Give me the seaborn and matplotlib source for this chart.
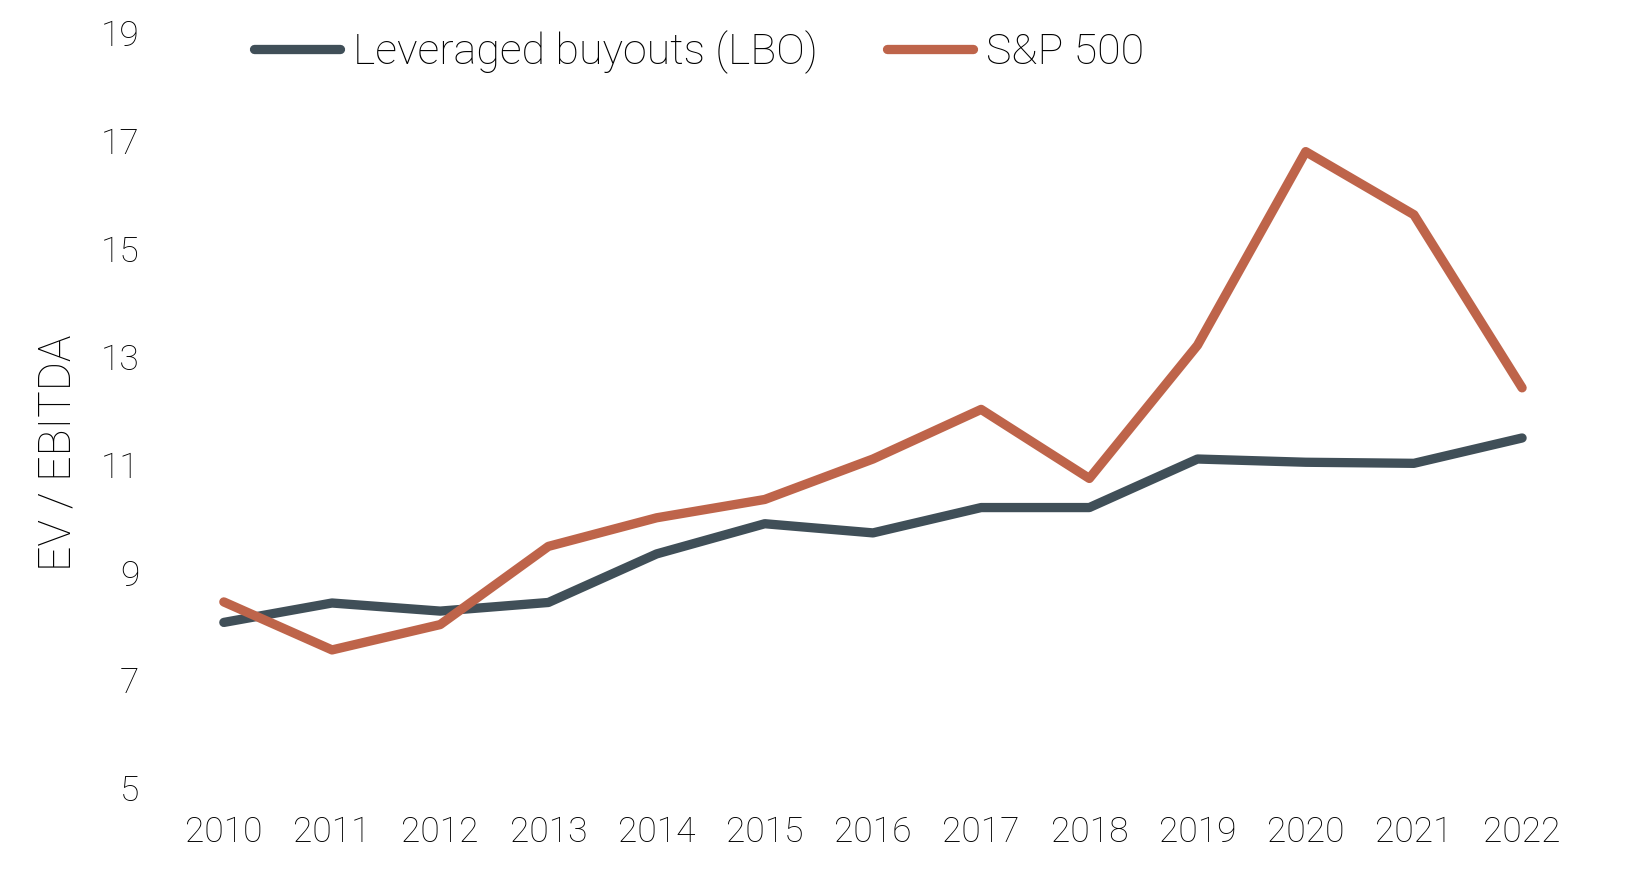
import numpy as np
import pandas as pd
import matplotlib
matplotlib.use("Agg")
import matplotlib.pyplot as plt
import seaborn as sns

years = [2010, 2011, 2012, 2013, 2014, 2015, 2016, 2017, 2018, 2019, 2020, 2021, 2022]
lbo = [8.07, 8.43, 8.28, 8.44, 9.34, 9.90, 9.73, 10.20, 10.20, 11.10, 11.04, 11.02, 11.49]
sp500 = [8.45, 7.56, 8.03, 9.48, 10.01, 10.35, 11.10, 12.02, 10.74, 13.21, 16.80, 15.63, 12.42]
series_names = ["Leveraged buyouts (LBO)", "S&P 500"]
yticks = [5, 7, 9, 11, 13, 15, 17, 19]
ylabel = "EV / EBITDA"

df = pd.DataFrame({
    "year": years * 2,
    "value": lbo + sp500,
    "series": [series_names[0]] * len(years) + [series_names[1]] * len(years),
})

sns.set_theme(style="white")
plt.rcParams["font.family"] = ["Roboto", "DejaVu Sans"]
plt.rcParams["font.weight"] = "light"
plt.rcParams["text.color"] = "#000000"

fig = plt.figure(figsize=(16.26, 8.77), dpi=100)
ax = fig.add_axes([0.0984, 0.1015, 0.8856, 0.8609])

palette = {series_names[0]: "#404F58", series_names[1]: "#BE644A"}
sns.lineplot(data=df, x="year", y="value", hue="series", palette=palette,
             linewidth=6.7, ax=ax, legend=True, solid_capstyle="round")

ax.set_xlim(2009.41, 2022.72)
ax.set_ylim(5, 19)
ax.set_yticks(yticks)
ax.set_yticklabels([str(t) for t in yticks])
ax.set_xticks(years)
ax.set_xticklabels([str(y) for y in years])
for s in ax.spines.values():
    s.set_visible(False)
ax.grid(False)
ax.tick_params(axis="y", length=0, pad=15, labelsize=25.5, colors="#000000")
ax.tick_params(axis="x", length=0, pad=20, labelsize=25.5, colors="#000000")

ax.set_xlabel("")
ax.set_ylabel(ylabel, fontsize=32, fontweight="light", color="#000000")
ax.yaxis.set_label_coords(-0.056, 0.444)

handles, labels = ax.get_legend_handles_labels()
ax.legend(handles, labels, loc="center left",
          bbox_to_anchor=(254 / 1626, 1 - 52 / 877), bbox_transform=fig.transFigure,
          ncol=2, frameon=False, handlelength=2.0, handletextpad=0.3,
          columnspacing=1.6, borderpad=0, borderaxespad=0,
          prop={"size": 31, "weight": "light"})
leg = ax.get_legend()
for t in leg.get_texts():
    t.set_color("#000000")
for line in leg.get_lines():
    line.set_linewidth(6.7)
    line.set_solid_capstyle("round")

fig.savefig("out.png", dpi=100)
